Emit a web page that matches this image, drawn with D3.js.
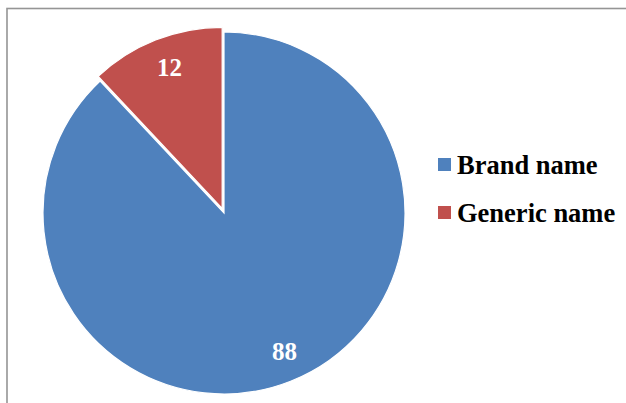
<!DOCTYPE html>
<html>
<head>
<meta charset="utf-8">
<script src="https://cdn.jsdelivr.net/npm/d3@7"></script>
<style>
  html, body { margin: 0; padding: 0; background: #fff; }
  svg { display: block; }
</style>
</head>
<body>
<svg id="chart" width="626" height="403"></svg>
<script>
// Share of prescriptions written by brand name vs generic name
const categories = ["Brand name", "Generic name"];
const values = [88, 12];
const colors = ["#4F81BD", "#C0504D"];

const svg = d3.select("#chart");

// chart area frame (top and left edges visible)
svg.append("rect")
  .attr("x", 7).attr("y", 8.5)
  .attr("width", 640).attr("height", 420)
  .attr("fill", "#fff")
  .attr("stroke", "#959595")
  .attr("stroke-width", 1.6);

const cx = 224, cy = 213, R = 181;
const explode = [0, 5];          // px each slice is pulled out along its bisector
const labelTurn = [-0.035, 0.02]; // small angular nudge of each value label
const labelR = 151;

const pie = d3.pie().sort(null).value(d => d)(values);
const arc = d3.arc().innerRadius(0).outerRadius(R);

const g = svg.append("g").attr("transform", `translate(${cx},${cy})`);

const slices = g.selectAll("g.slice")
  .data(pie)
  .enter().append("g")
  .attr("class", "slice")
  .attr("transform", (d, i) => {
    const a = (d.startAngle + d.endAngle) / 2;
    const e = explode[i];
    return `translate(${Math.sin(a) * e},${-Math.cos(a) * e})`;
  });

slices.append("path")
  .attr("d", arc)
  .attr("fill", (d, i) => colors[i])
  .attr("stroke", "#fff")
  .attr("stroke-width", 1.2);

slices.append("text")
  .attr("transform", (d, i) => {
    const a = (d.startAngle + d.endAngle) / 2 + labelTurn[i];
    return `translate(${Math.sin(a) * labelR},${-Math.cos(a) * labelR})`;
  })
  .attr("text-anchor", "middle")
  .attr("dy", "0.35em")
  .attr("fill", "#fff")
  .style("font-family", "'Liberation Serif', 'Times New Roman', serif")
  .style("font-weight", "bold")
  .style("font-size", "25px")
  .text(d => d.data);

// legend
const legend = svg.append("g").attr("transform", "translate(438,0)");
const rows = legend.selectAll("g")
  .data(categories)
  .enter().append("g")
  .attr("transform", (d, i) => `translate(0,${174 + i * 48})`);

rows.append("rect")
  .attr("x", 0).attr("y", -16)
  .attr("width", 13).attr("height", 13)
  .attr("fill", (d, i) => colors[i]);

rows.append("text")
  .attr("x", 19).attr("y", 0)
  .style("font-family", "'Liberation Serif', 'Times New Roman', serif")
  .style("font-weight", "bold")
  .style("font-size", "26.5px")
  .attr("fill", "#000")
  .text(d => d);
</script>
</body>
</html>
